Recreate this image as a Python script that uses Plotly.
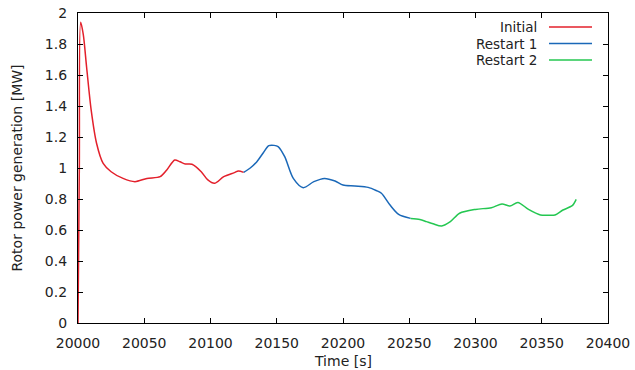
import plotly.graph_objects as go

# Initial run
t_initial = [20000, 20001, 20002, 20004, 20006.5, 20010, 20014, 20019, 20025, 20034, 20043,
             20052, 20062, 20067, 20073, 20077, 20081, 20086, 20093, 20098, 20103, 20110,
             20118, 20121, 20125]
p_initial = [0.0, 1.0, 1.94, 1.86, 1.65, 1.37, 1.16, 1.03, 0.976, 0.933, 0.912,
             0.933, 0.944, 0.987, 1.052, 1.04, 1.026, 1.024, 0.976, 0.923, 0.901, 0.944,
             0.970, 0.981, 0.972]

# Restart 1
t_restart1 = [20125, 20130, 20135, 20140, 20144, 20148, 20151, 20156, 20162.5, 20170, 20178,
              20186, 20194, 20200, 20209, 20219, 20225, 20229, 20235.5, 20242, 20251]
p_restart1 = [0.972, 1.0, 1.041, 1.10, 1.144, 1.146, 1.138, 1.073, 0.933, 0.873, 0.912,
              0.933, 0.916, 0.890, 0.884, 0.875, 0.855, 0.837, 0.761, 0.701, 0.675]

# Restart 2
t_restart2 = [20251, 20258, 20263, 20268, 20274.5, 20281, 20288, 20300, 20312, 20320, 20326,
              20332, 20340, 20349, 20355, 20360, 20366, 20373, 20376]
p_restart2 = [0.675, 0.668, 0.654, 0.64, 0.626, 0.654, 0.708, 0.733, 0.744, 0.768, 0.755,
              0.778, 0.733, 0.697, 0.695, 0.697, 0.729, 0.757, 0.798]

series = [
    ("Initial", t_initial, p_initial, "#e3202b"),
    ("Restart 1", t_restart1, p_restart1, "#1a68b8"),
    ("Restart 2", t_restart2, p_restart2, "#24c751"),
]

x_ticks = [20000, 20050, 20100, 20150, 20200, 20250, 20300, 20350, 20400]
y_ticks = [0, 0.2, 0.4, 0.6, 0.8, 1, 1.2, 1.4, 1.6, 1.8, 2]
y_tick_labels = ["0", "0.2", "0.4", "0.6", "0.8", "1", "1.2", "1.4", "1.6", "1.8", "2"]

fig = go.Figure()
for name, t, p, c in series:
    fig.add_trace(go.Scatter(x=t, y=p, mode="lines", name=name,
                             line=dict(color=c, width=1.5, shape="spline", smoothing=0.8),
                             showlegend=False))

font = dict(family="DejaVu Sans", size=14, color="#222222")
axis_common = dict(showline=True, linecolor="#000000", linewidth=1.2, mirror="ticks",
                   ticks="inside", ticklen=5, tickcolor="#000000", tickwidth=1,
                   showgrid=False, zeroline=False, tickfont=font, automargin=False)

fig.update_layout(
    width=635, height=370,
    margin=dict(l=78, r=27, t=13, b=47),
    paper_bgcolor="white", plot_bgcolor="white",
    font=font,
    xaxis=dict(range=[20000, 20400], tickvals=x_ticks, ticktext=[str(v) for v in x_ticks],
               ticklabelstandoff=7, **axis_common),
    yaxis=dict(range=[0, 2], tickvals=y_ticks, ticktext=y_tick_labels,
               title=dict(text="Rotor power generation [MW]", font=font, standoff=18),
               ticklabelstandoff=7, **axis_common),
)

# x-axis title placed as in the reference
fig.add_annotation(x=0.5, y=1 - (361 - 13) / 310, xref="paper", yref="paper",
                   text="Time [s]", showarrow=False, xanchor="center", yanchor="middle",
                   font=font)

# gnuplot-style key: label on the left, sample line on the right
for i, (name, t, p, c) in enumerate(series):
    ypix = 27 + i * 16.5
    yp = 1 - (ypix - 13) / 310
    fig.add_annotation(x=(539 - 78) / 530, y=yp, xref="paper", yref="paper",
                       text=name, showarrow=False, xanchor="right", yanchor="middle",
                       font=dict(family="DejaVu Sans", size=13.5, color="#222222"))
    fig.add_shape(type="line", xref="paper", yref="paper",
                  x0=(549 - 78) / 530, x1=(592 - 78) / 530, y0=yp, y1=yp,
                  line=dict(color=c, width=1.5))

fig.write_html("out.html")
